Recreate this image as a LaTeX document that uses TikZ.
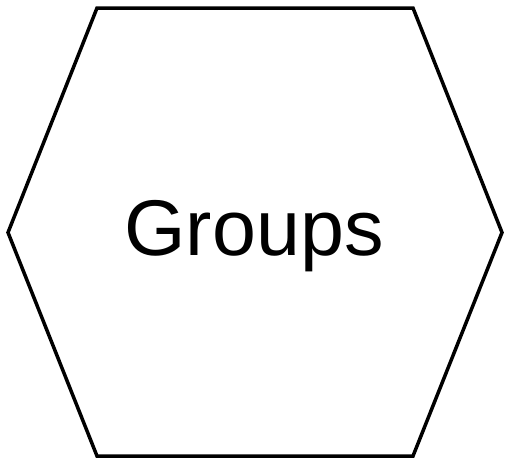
\documentclass[tikz,border=0pt]{standalone}
\usepackage{fontspec}
\setmainfont{Liberation Sans}
\usetikzlibrary{positioning,calc}
\definecolor{ink}{HTML}{000000}
\tikzset{hexline/.style={draw=ink,line width=3.5pt,line join=miter},grouptext/.style={font=\fontsize{79}{90}\selectfont,text=ink,inner sep=0pt}}

\begin{document}
\begin{tikzpicture}[x=1pt,y=-1pt]
\useasboundingbox (0,0) rectangle (510,459);
\coordinate (tl) at (97,8);\coordinate (tr) at (413,8);\coordinate (r) at (502,232.5);
\coordinate (br) at (413,456);\coordinate (bl) at (97,456);\coordinate (l) at (8,232.5);
\draw[hexline] (tl)--(tr)--(r)--(br)--(bl)--(l)--cycle;
\node[grouptext] (groups) at (254,236) {Groups};
\end{tikzpicture}
\end{document}
